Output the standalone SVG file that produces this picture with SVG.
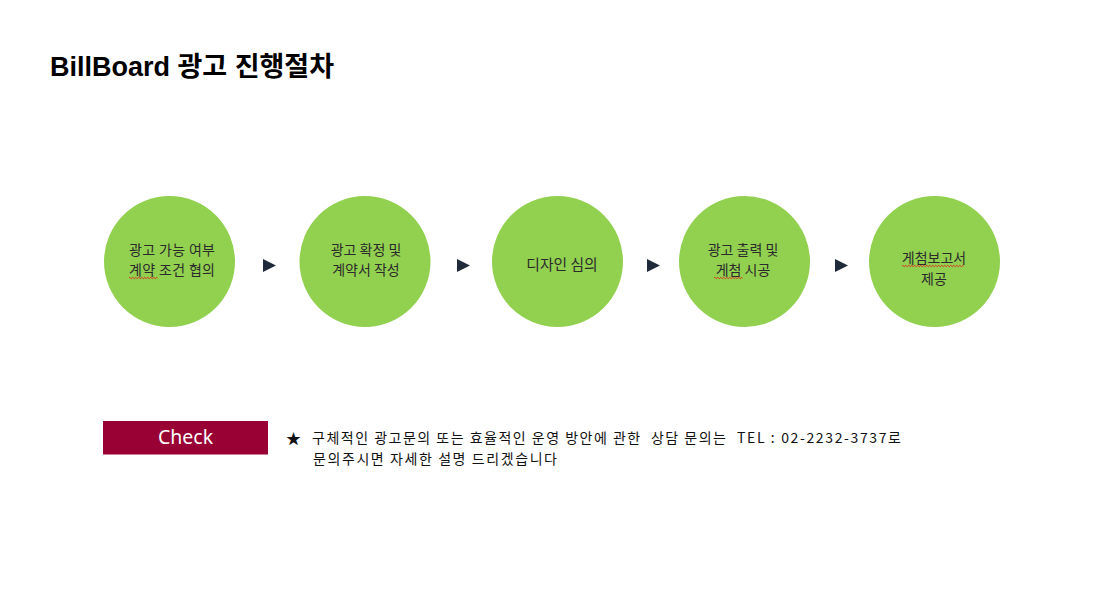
<svg xmlns="http://www.w3.org/2000/svg" width="1103" height="599" viewBox="0 0 1103 599">
  <style>
    .title { font-family: "Liberation Sans", "Noto Sans CJK KR", sans-serif; font-weight: 700; font-size: 27px; fill: #000; }
    .step { fill: #92D050; }
    .label { font-family: "Noto Sans CJK KR", sans-serif; font-size: 14px; fill: #2b2b2b; text-anchor: middle; }
    .arrow { fill: #1F2A3A; }
    .squiggle { fill: none; stroke: #E02020; stroke-width: 0.9; }
    .check-box { fill: #990033; }
    .check-text { font-family: "Noto Sans", "Liberation Sans", sans-serif; font-size: 19.5px; fill: #fff; text-anchor: middle; }
    .note { font-family: "Noto Sans CJK KR", sans-serif; font-size: 14px; fill: #111; }
  </style>
  <rect width="1103" height="599" fill="#fff"/>

  <text class="title" x="50" y="76">BillBoard 광고 진행절차</text>

  <g id="connectors">
    <polygon class="arrow" points="263,259 276,265.5 263,272"/>
    <polygon class="arrow" points="457,259 470,265.5 457,272"/>
    <polygon class="arrow" points="647,259 660,265.5 647,272"/>
    <polygon class="arrow" points="835,259 848,265.5 835,272"/>
  </g>

  <g id="step1">
    <circle class="step" cx="169.5" cy="261.5" r="65.5"/>
    <text class="label" y="254.5"><tspan x="172" textLength="86" lengthAdjust="spacing">광고 가능 여부</tspan><tspan x="172" dy="20.8" textLength="86" lengthAdjust="spacing">계약 조건 협의</tspan></text>
    <path class="squiggle" d="M129,278 q0.75,-1.4 1.5,0 t1.5,0 t1.5,0 t1.5,0 t1.5,0 t1.5,0 t1.5,0 t1.5,0 t1.5,0 t1.5,0 t1.5,0 t1.5,0 t1.5,0 t1.5,0 t1.5,0 t1.5,0 t1.5,0 t1.5,0 t1.5,0"/>
  </g>

  <g id="step2">
    <circle class="step" cx="365" cy="261.5" r="65.5"/>
    <text class="label" y="254.5"><tspan x="366">광고 확정 및</tspan><tspan x="366" dy="20.8">계약서 작성</tspan></text>
  </g>

  <g id="step3">
    <circle class="step" cx="557.5" cy="261.5" r="65.5"/>
    <text class="label" x="562" y="269.5" style="font-size:14.8px">디자인 심의</text>
  </g>

  <g id="step4">
    <circle class="step" cx="744.5" cy="261.5" r="65.5"/>
    <text class="label" y="254.5"><tspan x="743">광고 출력 및</tspan><tspan x="743" dy="20.8">게첨 시공</tspan></text>
    <path class="squiggle" d="M714,278 q0.75,-1.4 1.5,0 t1.5,0 t1.5,0 t1.5,0 t1.5,0 t1.5,0 t1.5,0 t1.5,0 t1.5,0 t1.5,0 t1.5,0 t1.5,0 t1.5,0 t1.5,0 t1.5,0 t1.5,0 t1.5,0 t1.5,0 t1.5,0"/>
  </g>

  <g id="step5">
    <circle class="step" cx="934.5" cy="261.5" r="65.5"/>
    <text class="label" y="263"><tspan x="934">게첨보고서</tspan><tspan x="934" dy="20.8">제공</tspan></text>
    <path class="squiggle" d="M902,266 q0.75,-1.4 1.5,0 t1.5,0 t1.5,0 t1.5,0 t1.5,0 t1.5,0 t1.5,0 t1.5,0 t1.5,0 t1.5,0 t1.5,0 t1.5,0 t1.5,0 t1.5,0 t1.5,0 t1.5,0 t1.5,0 t1.5,0 t1.5,0 t1.5,0 t1.5,0 t1.5,0 t1.5,0 t1.5,0 t1.5,0 t1.5,0 t1.5,0 t1.5,0 t1.5,0 t1.5,0 t1.5,0 t1.5,0 t1.5,0 t1.5,0 t1.5,0 t1.5,0 t1.5,0 t1.5,0 t1.5,0 t1.5,0 t1.5,0"/>
  </g>

  <g id="check">
    <rect class="check-box" x="103" y="421" width="165" height="33.5"/>
    <text class="check-text" x="185.5" y="443.5">Check</text>
  </g>

  <g id="note">
    <text class="note" x="286" y="443.5" style="font-size:15px">★</text>
    <text class="note" y="442.5" xml:space="preserve"><tspan x="312" textLength="414" lengthAdjust="spacing">구체적인 광고문의 또는 효율적인 운영 방안에 관한  상담 문의는</tspan><tspan x="737" textLength="164" lengthAdjust="spacing">TEL : 02-2232-3737로</tspan></text>
    <text class="note" x="313" y="463.5" textLength="244" lengthAdjust="spacing">문의주시면 자세한 설명 드리겠습니다</text>
  </g>
</svg>
